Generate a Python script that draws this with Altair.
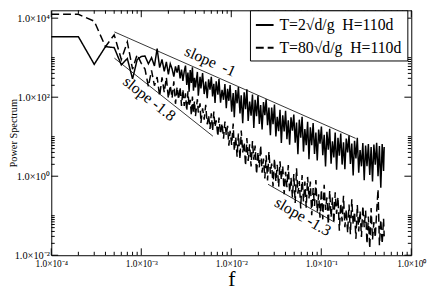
import altair as alt
import pandas as pd

# ---------------- data ----------------
df_step = 1e-4  # frequency resolution
k_index = list(range(1, 41)) + [
    42, 43, 45, 46, 48, 50, 52, 54, 56, 58,
    60, 62, 64, 66, 68, 71, 73, 76, 79, 82,
    85, 88, 91, 94, 97, 101, 105, 108, 112, 116,
    120, 125, 129, 134, 139, 144, 149, 154, 160, 166,
    172, 178, 184, 191, 198, 205, 212, 220, 228, 236,
    244, 253, 262, 272, 281, 291, 302, 313, 324, 336,
    348, 360, 373, 387, 401, 415, 430, 445, 461, 478,
    495, 513, 531, 550, 570, 591, 612, 634, 657, 680,
    705, 730, 756, 783, 812, 841, 871, 902, 935, 968,
    1003, 1039, 1077, 1115, 1155, 1197, 1240, 1285, 1331, 1379,
    1428, 1480, 1533, 1588, 1645, 1704, 1766, 1829, 1895, 1963,
    2034, 2107, 2183, 2261, 2343, 2427, 2514, 2605, 2698, 2795,
    2896, 3000, 3108, 3220, 3336, 3456, 3580, 3709, 3842, 3980,
    4124, 4272, 4426, 4585, 4750, 4921, 5000]

solid_power = [3400, 3400, 680, 1900, 1800, 660, 950, 290, 890, 1070,
               1100, 700, 1000, 620, 1700, 560, 900, 450, 780, 380,
               700, 520, 330, 600, 420, 650, 300, 500, 260, 450,
               632, 203, 420, 138, 488, 230, 568, 145, 310, 176,
               436, 109, 330, 166, 408, 120, 249, 94, 284, 155,
               327, 105, 217, 71, 251, 116, 288, 73, 153, 86,
               215, 53, 163, 81, 202, 43, 128, 31, 152, 70,
               181, 39, 112, 22, 133, 50, 158, 25, 77, 34,
               116, 16.7, 86, 33, 110, 21, 63, 15.3, 75, 35,
               89, 19.5, 55, 10.9, 55, 20.6, 65, 10.1, 32, 13.8,
               48, 6.9, 35, 13.6, 45, 8.7, 26, 6.3, 31, 14.2,
               36.5, 7.0, 22.8, 3.6, 27, 9.4, 32, 4.2, 15.6, 6.1,
               23.7, 2.7, 17.3, 6.1, 22.2, 3.65, 12.8, 2.5, 15.2, 6.7,
               18, 3.4, 11.2, 1.76, 13.3, 4.7, 15.8, 2.06, 7.7, 3.0,
               12.8, 1.45, 9.4, 3.3, 12, 1.97, 7.2, 1.5, 9.0, 4.0,
               10.7, 2.03, 6.7, 1.04, 7.9, 2.8, 9.4, 1.22, 4.6, 1.78,
               6.9, 0.79, 6.0, 1.8, 6.5, 1.07, 5.5, 0.74, 6.3, 1.96,
               7.0, 1.0, 5.8, 0.51, 6.5, 1.36, 5.5]

dashed_power = [12500, 12500, 8400, 1900, 3800, 900, 2500, 510, 1200, 720,
                513, 186, 479, 195, 324, 107, 316, 132, 316, 93,
                200, 95, 251, 68, 182, 87, 182, 60, 158, 60,
                125, 45, 141, 58, 86, 34.5, 104, 41, 80, 33,
                89, 41, 70, 22.4, 52, 27, 64, 20.6, 35, 15.7,
                39, 13.9, 43.5, 17.5, 26, 10.2, 30.5, 11.7, 22, 8.9,
                24, 10.9, 18.8, 5.9, 14, 6.2, 21.4, 4.4, 9.9, 3.1,
                12, 2.7, 14.4, 4.0, 7.1, 1.85, 9.3, 2.45, 6.4, 1.76,
                7.8, 2.6, 6.0, 1.13, 4.1, 1.68, 6.0, 1.22, 2.8, 0.875,
                3.4, 0.78, 4.2, 1.16, 2.1, 0.55, 2.8, 0.74, 1.95, 0.54,
                2.4, 0.81, 1.84, 0.35, 1.30, 0.53, 1.91, 0.39, 0.91, 0.29,
                1.13, 0.21, 1.58, 0.36, 0.75, 0.152, 1.07, 0.228, 0.73, 0.16,
                0.96, 0.274, 0.73, 0.103, 0.50, 0.177, 0.80, 0.126, 0.35, 0.089,
                0.46, 0.081, 0.61, 0.14, 0.29, 0.060, 0.43, 0.091, 0.29, 0.064,
                0.39, 0.111, 0.295, 0.042, 0.205, 0.072, 0.32, 0.051, 0.143, 0.037,
                0.193, 0.034, 0.26, 0.060, 0.126, 0.026, 0.187, 0.040, 0.131, 0.029,
                0.177, 0.051, 0.136, 0.0195, 0.096, 0.015, 0.156, 0.0246, 0.069, 0.028,
                0.126, 0.47, 0.018, 0.079, 0.0195, 0.085, 0.030]

series_labels = ["T=2\u221ad/g\u00a0 H=110d", "T=80\u221ad/g\u00a0 H=110d"]

x_major = [1e-4, 1e-3, 1e-2, 1e-1, 1.0]
x_major_labels = ["1.0\u00d710\u207b\u2074", "1.0\u00d710\u207b\u00b3", "1.0\u00d710\u207b\u00b2",
                  "1.0\u00d710\u207b\u00b9", "1.0\u00d710\u2070"]
x_minor = [2e-4, 3e-4, 4e-4, 5e-4, 6e-4, 7e-4, 8e-4, 9e-4,
           2e-3, 3e-3, 4e-3, 5e-3, 6e-3, 7e-3, 8e-3, 9e-3,
           2e-2, 3e-2, 4e-2, 5e-2, 6e-2, 7e-2, 8e-2, 9e-2,
           0.2, 0.3, 0.4, 0.5, 0.6, 0.7, 0.8, 0.9]
y_major = [1e-2, 1.0, 1e2, 1e4]
y_major_labels = ["1.0\u00d710\u207b\u00b2", "1.0\u00d710\u2070", "1.0\u00d710\u00b2", "1.0\u00d710\u2074"]
y_minor = [0.02, 0.03, 0.04, 0.05, 0.06, 0.07, 0.08, 0.09, 0.1,
           2, 3, 4, 5, 6, 7, 8, 9, 10,
           200, 300, 400, 500, 600, 700, 800, 900, 1000]

# guide lines (slopes)
slope_f1 = [5.03e-4, 5.03e-4, 0.0256]
slope_p1 = [4490, 972, 0.625]
slope_f2 = [0.241, 6.25e-3, 0.14]
slope_p2 = [9.07, 10.3, 0.0689]

ann_text = ["slope\u00a0 -1", "slope -1.8", "slope -1.3"]
ann_f = [5.85e-3, 1.23e-3, 0.0624]
ann_p = [803, 91, 0.094]
ann_angle = [24, 38, 30]

# ---------------- chart ----------------
W, H = 366, 249
FONT = "Liberation Serif"
xs = alt.Scale(type="log", domain=[1e-4, 1.0], nice=False)
ys = alt.Scale(type="log", domain=[0.01, 15800], nice=False)

freq = [k * df_step for k in k_index]
n = len(freq)
spec = pd.DataFrame({
    "f": freq + freq,
    "p": solid_power + dashed_power,
    "s": [series_labels[0]] * n + [series_labels[1]] * n,
})


def label_expr(values, labels):
    parts = []
    for v, l in zip(values[:-1], labels[:-1]):
        parts.append(f"datum.value < {v * 3.0} ? '{l}' : ")
    return "".join(parts) + f"'{labels[-1]}'"


x_axis = alt.Axis(values=x_major, labelExpr=label_expr(x_major, x_major_labels),
                  ticks=False, domain=False, grid=False,
                  labelFont=FONT, labelFontSize=9.5, labelColor="black", labelPadding=3,
                  labelFlush=False,
                  title="f", titleFont=FONT, titleFontSize=22, titleFontWeight="normal",
                  titleColor="black", titleY=31, titleBaseline="alphabetic")
y_axis = alt.Axis(values=y_major, labelExpr=label_expr(y_major, y_major_labels),
                  ticks=False, domain=False, grid=False,
                  labelFont=FONT, labelFontSize=10.5, labelColor="black", labelPadding=2,
                  labelFlush=False,
                  title="Power Spectrum", titleFont=FONT, titleFontSize=10.5,
                  titleFontWeight="normal", titleColor="black",
                  titleX=-38, titleBaseline="middle")

lines = alt.Chart(spec).mark_line(color="black", strokeWidth=1.5).encode(
    x=alt.X("f:Q", scale=xs, axis=x_axis),
    y=alt.Y("p:Q", scale=ys, axis=y_axis),
    strokeDash=alt.StrokeDash("s:N",
                              scale=alt.Scale(domain=series_labels, range=[[1, 0], [8, 4]]),
                              legend=alt.Legend(title=None, orient="none", legendX=202, legendY=0,
                                                symbolType="stroke", symbolSize=324,
                                                symbolStrokeWidth=2, symbolStrokeColor="black",
                                                labelFont=FONT, labelFontSize=16, labelColor="black",
                                                labelLimit=300,
                                                strokeColor="black", fillColor="white",
                                                padding=5, rowPadding=5, labelOffset=5)),
)


def xticks(vals, length):
    d = pd.DataFrame({"f": vals})
    bottom = alt.Chart(d).mark_rule(color="black", strokeWidth=1).encode(
        x=alt.X("f:Q", scale=xs, axis=x_axis), y=alt.value(H), y2=alt.value(H - length))
    top = alt.Chart(d).mark_rule(color="black", strokeWidth=1).encode(
        x=alt.X("f:Q", scale=xs, axis=x_axis), y=alt.value(0), y2=alt.value(length))
    return [bottom, top]


def yticks(vals, length):
    d = pd.DataFrame({"p": vals})
    left = alt.Chart(d).mark_rule(color="black", strokeWidth=1).encode(
        y=alt.Y("p:Q", scale=ys, axis=y_axis), x=alt.value(0), x2=alt.value(length))
    right = alt.Chart(d).mark_rule(color="black", strokeWidth=1).encode(
        y=alt.Y("p:Q", scale=ys, axis=y_axis), x=alt.value(W), x2=alt.value(W - length))
    return [left, right]


slopes_df = pd.DataFrame({"f": slope_f1, "p": slope_p1, "f2": slope_f2, "p2": slope_p2})
slopes = alt.Chart(slopes_df).mark_rule(color="black", strokeWidth=0.8).encode(
    x=alt.X("f:Q", scale=xs, axis=x_axis), y=alt.Y("p:Q", scale=ys, axis=y_axis),
    x2="f2:Q", y2="p2:Q")

ann_df = pd.DataFrame({"t": ann_text, "f": ann_f, "p": ann_p, "a": ann_angle})
ann = alt.Chart(ann_df).mark_text(font=FONT, fontSize=16, color="black",
                                  align="center", baseline="middle").encode(
    x=alt.X("f:Q", scale=xs, axis=x_axis), y=alt.Y("p:Q", scale=ys, axis=y_axis),
    text="t:N", angle=alt.Angle("a:Q", scale=None))

layers = [lines, slopes, ann] + xticks(x_major, 7) + xticks(x_minor, 3.5) \
    + yticks(y_major, 7) + yticks(y_minor, 3.5)

chart = alt.layer(*layers).properties(
    width=W, height=H, autosize="none",
    padding={"left": 44, "top": 0, "right": 17, "bottom": 34},
    background="white",
).configure_view(stroke="black", strokeWidth=1)

chart.save("out.html", embed_options={"renderer": "svg", "actions": False})
